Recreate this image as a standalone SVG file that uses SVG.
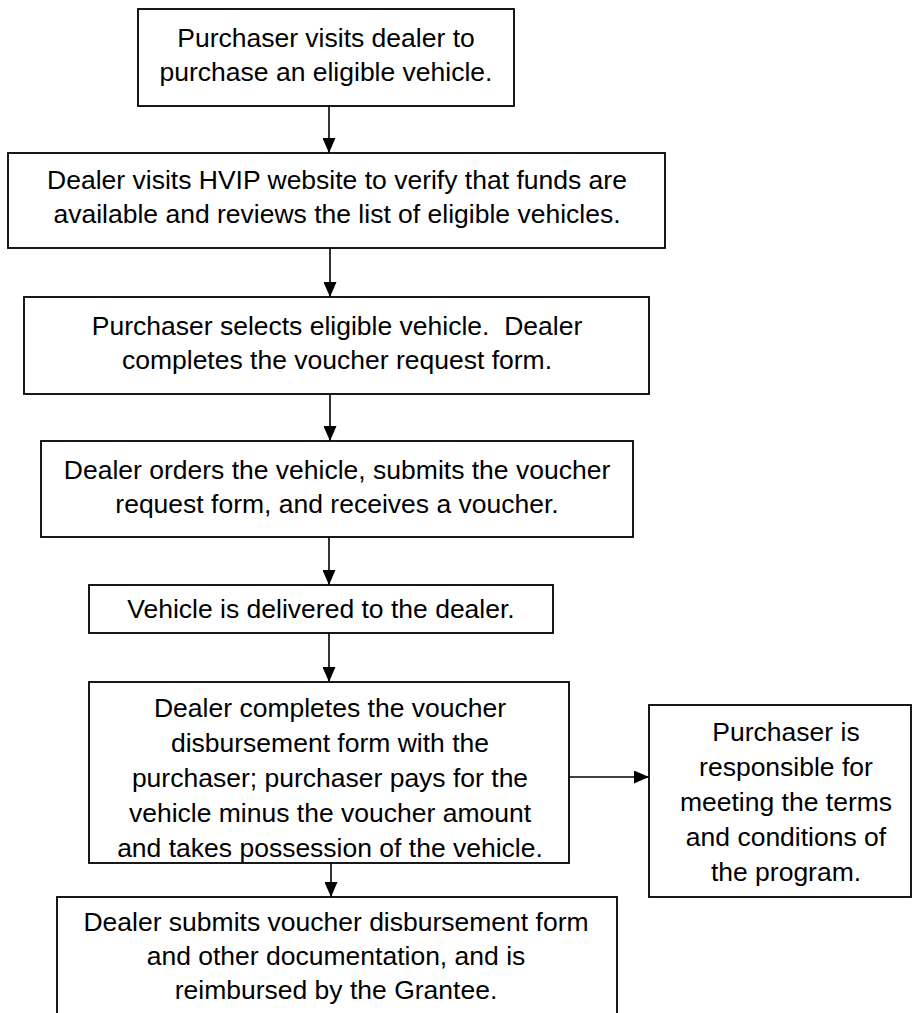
<svg xmlns="http://www.w3.org/2000/svg" width="914" height="1013" viewBox="0 0 914 1013">
<style>
.box{fill:#fff;stroke:#000;stroke-width:1.8}
.t{font-family:"Liberation Sans",Arial,sans-serif;font-size:26.5px;fill:#000;text-anchor:middle;white-space:pre}
.c{stroke:#000;stroke-width:1.6;fill:none}
</style>
<defs>
<marker id="ah" viewBox="0 0 15 13" refX="15" refY="6.5" markerWidth="15" markerHeight="13" markerUnits="userSpaceOnUse" orient="auto">
<path d="M0,0 L15,6.5 L0,13 Z" fill="#000"/>
</marker>
</defs>
<rect width="914" height="1013" fill="#fff"/>
<g id="connectors">
<line class="c" x1="329" y1="106" x2="329" y2="153" marker-end="url(#ah)"/>
<line class="c" x1="330" y1="248" x2="330" y2="297" marker-end="url(#ah)"/>
<line class="c" x1="330" y1="394" x2="330" y2="441" marker-end="url(#ah)"/>
<line class="c" x1="329" y1="537" x2="329" y2="585" marker-end="url(#ah)"/>
<line class="c" x1="329" y1="633" x2="329" y2="682" marker-end="url(#ah)"/>
<line class="c" x1="331" y1="863" x2="331" y2="897" marker-end="url(#ah)"/>
<line class="c" x1="569" y1="777" x2="649" y2="777" marker-end="url(#ah)"/>
</g>
<g id="n1">
<rect class="box" x="138" y="9" width="376" height="97"/>
<text class="t" x="326" y="47">Purchaser visits dealer to</text>
<text class="t" x="326" y="81">purchase an eligible vehicle.</text>
</g>
<g id="n2">
<rect class="box" x="8" y="153" width="657" height="95"/>
<text class="t" x="337" y="189">Dealer visits HVIP website to verify that funds are</text>
<text class="t" x="337" y="223">available and reviews the list of eligible vehicles.</text>
</g>
<g id="n3">
<rect class="box" x="24" y="297" width="625" height="97"/>
<text class="t" x="337" y="335">Purchaser selects eligible vehicle.  Dealer</text>
<text class="t" x="337" y="369">completes the voucher request form.</text>
</g>
<g id="n4">
<rect class="box" x="41" y="441" width="592" height="96"/>
<text class="t" x="337" y="479">Dealer orders the vehicle, submits the voucher</text>
<text class="t" x="337" y="513">request form, and receives a voucher.</text>
</g>
<g id="n5">
<rect class="box" x="89" y="585" width="464" height="48"/>
<text class="t" x="321" y="618">Vehicle is delivered to the dealer.</text>
</g>
<g id="n6">
<rect class="box" x="89" y="682" width="480" height="181"/>
<text class="t" x="330" y="717">Dealer completes the voucher</text>
<text class="t" x="330" y="752">disbursement form with the</text>
<text class="t" x="330" y="786.5">purchaser; purchaser pays for the</text>
<text class="t" x="330" y="821.5">vehicle minus the voucher amount</text>
<text class="t" x="330" y="856.5">and takes possession of the vehicle.</text>
</g>
<g id="n7">
<rect class="box" x="649" y="705" width="262" height="192"/>
<text class="t" x="786" y="741">Purchaser is</text>
<text class="t" x="786" y="776">responsible for</text>
<text class="t" x="786" y="811">meeting the terms</text>
<text class="t" x="786" y="846">and conditions of</text>
<text class="t" x="786" y="881">the program.</text>
</g>
<g id="n8">
<rect class="box" x="57" y="897" width="560" height="140"/>
<text class="t" x="336" y="931">Dealer submits voucher disbursement form</text>
<text class="t" x="336" y="965">and other documentation, and is</text>
<text class="t" x="336" y="999">reimbursed by the Grantee.</text>
</g>
</svg>
